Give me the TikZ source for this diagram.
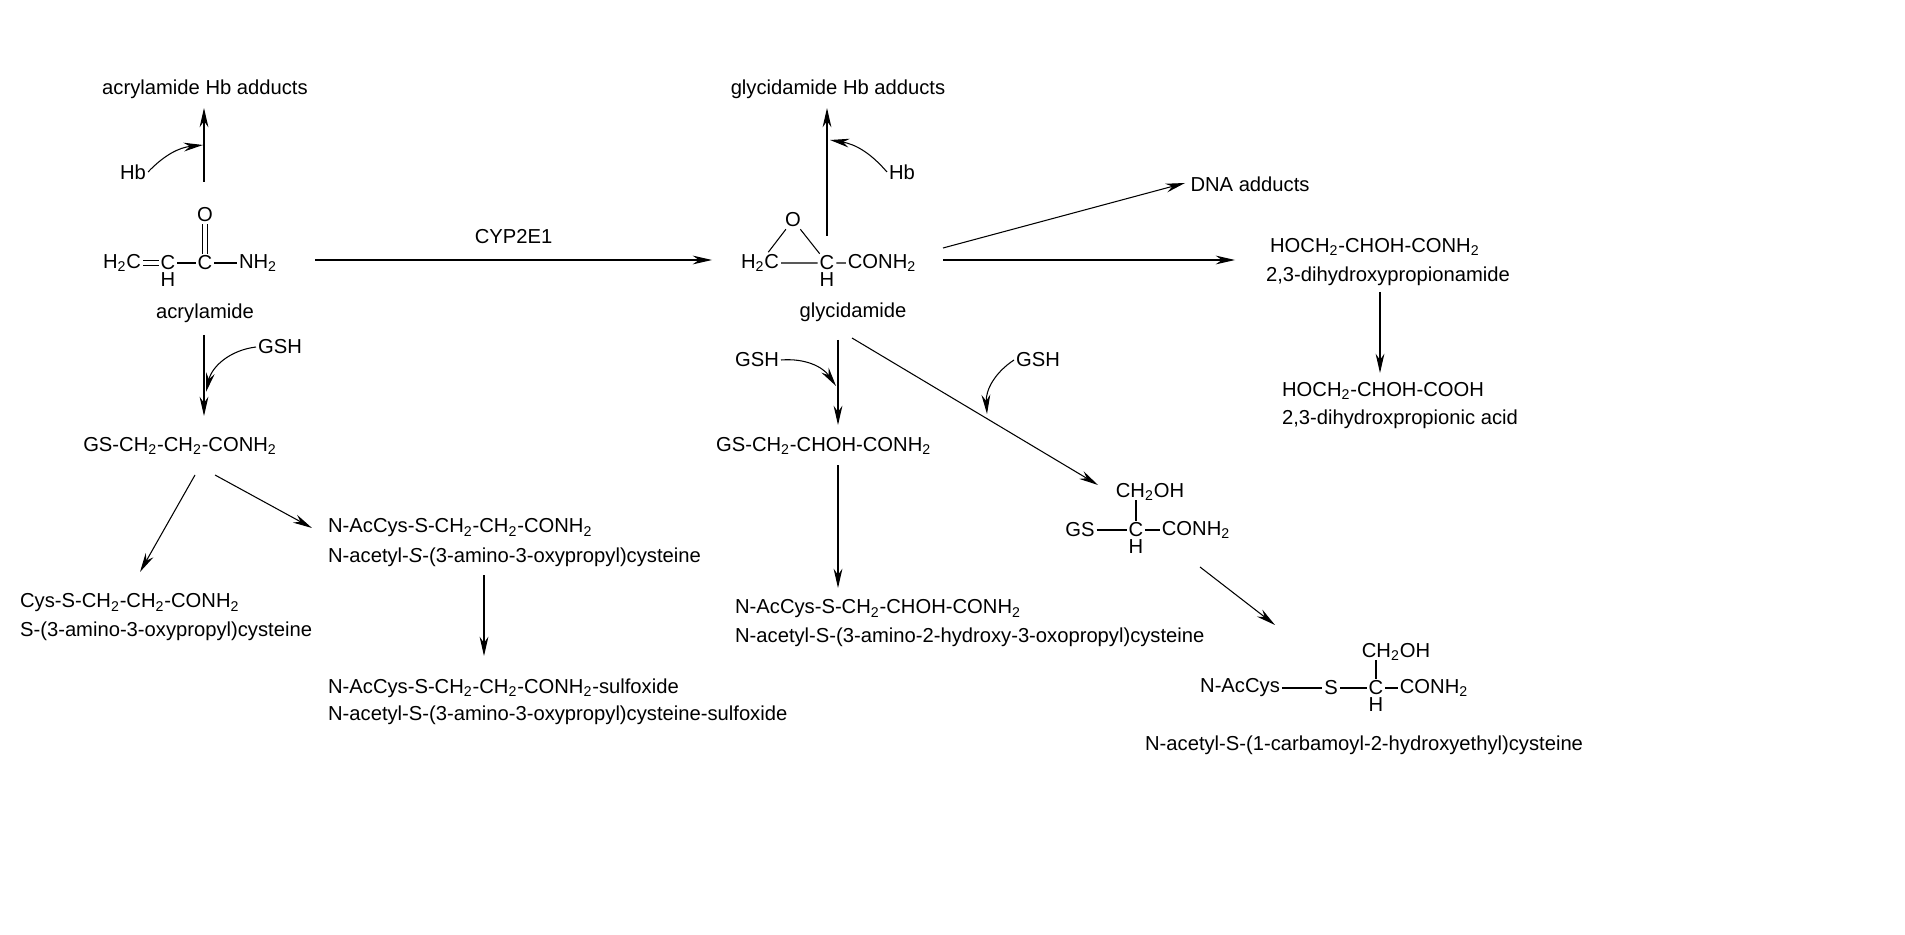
\documentclass[tikz,border=0pt]{standalone}
\usepackage{fontspec}
\setmainfont{Liberation Sans}
\usetikzlibrary{arrows.meta}
\newcommand{\lowsub}[1]{\textsubscript{#1}}
\tikzset{
  rxn/.style={-{Stealth[length=11pt,width=5pt]},semithick},
  bond/.style={semithick},
  lbl/.style={font=\fontsize{11.5}{14}\selectfont,inner sep=1pt},
  llbl/.style={lbl,anchor=west}
}
\begin{document}
\begin{tikzpicture}[x=0.02cm,y=-0.02cm]
\useasboundingbox (0,0) rectangle (1905,935);
% acrylamide
\node[lbl] (ahb) at (205,89) {acrylamide Hb adducts};
\node[lbl] (hb1) at (133,172) {Hb};
\node[lbl] (a1) at (122,263) {H\lowsub{2}C};
\node[lbl] (a2) at (168,263) {C};
\node[lbl] (a2h) at (168,280) {H};
\node[lbl] (a3) at (205,263) {C};
\node[lbl] (ao) at (205,215) {O};
\node[lbl] (a4) at (258,263) {NH\lowsub{2}};
\draw[bond] ([yshift=1.6pt]a1.east) -- ([yshift=1.6pt]a2.west)
            ([yshift=-1.6pt]a1.east) -- ([yshift=-1.6pt]a2.west);
\draw[bond] (a2) -- (a3) (a3) -- (a4);
\draw[bond] ([xshift=1.6pt]a3.north) -- ([xshift=1.6pt]ao.south)
            ([xshift=-1.6pt]a3.north) -- ([xshift=-1.6pt]ao.south);
\node[lbl] (acr) at (205,313) {acrylamide};
\coordinate (abot) at (204,182);
\draw[rxn] (abot) -- (204,108);
\draw[rxn] (hb1.east) to[bend left=20] (203,145);
% CYP2E1
\coordinate (cyp1) at (315,260);
\coordinate (cyp2) at (712,260);
\draw[rxn] (cyp1) -- node[lbl,above=8pt] {CYP2E1} (cyp2);
% glycidamide
\node[lbl] (ghb) at (838,89) {glycidamide Hb adducts};
\node[lbl] (hb2) at (902,172) {Hb};
\node[lbl] (g1) at (760,263) {H\lowsub{2}C};
\node[lbl] (g2) at (827,263) {C};
\node[lbl] (g2h) at (827,280) {H};
\node[lbl] (go) at (793,220) {O};
\node[lbl] (g3) at (882,263) {CONH\lowsub{2}};
\draw[bond] (g1) -- (g2) (g2) -- (g3) (g1) -- (go) (go) -- (g2);
\node[lbl] (gly) at (853,312) {glycidamide};
\draw[rxn] (827,236) -- (827,108);
\draw[rxn] (hb2.west) to[bend right=20] (830,140);
\node[lbl] (dna) at (1250,184) {DNA adducts};
\draw[rxn] (943,248) -- (1185,183);
\draw[rxn] (943,260) -- (1235,260);
\node[llbl] (dhp) at (1268,247) {HOCH\lowsub{2}-CHOH-CONH\lowsub{2}};
\node[llbl] (dhpn) at (1264,276) {2,3-dihydroxypropionamide};
\node[llbl] (dha) at (1280,391) {HOCH\lowsub{2}-CHOH-COOH};
\node[llbl] (dhan) at (1280,419) {2,3-dihydroxpropionic acid};
\draw[rxn] (1380,292) -- (1380,373);
% GSH conjugation of acrylamide
\node[lbl] (gsh1) at (280,347) {GSH};
\draw[rxn] (204,335) -- (204,416);
\draw[rxn] (gsh1.west) to[bend right=35] (206,392);
\node[lbl] (gsa) at (180,446) {GS-CH\lowsub{2}-CH\lowsub{2}-CONH\lowsub{2}};
\node[llbl] (nac1) at (326,528) {N-AcCys-S-CH\lowsub{2}-CH\lowsub{2}-CONH\lowsub{2}};
\node[llbl] (nac1n) at (326,557) {N-acetyl-\textit{S}-(3-amino-3-oxypropyl)cysteine};
\node[llbl] (cys1) at (18,603) {Cys-S-CH\lowsub{2}-CH\lowsub{2}-CONH\lowsub{2}};
\node[llbl] (cys1n) at (18,631) {S-(3-amino-3-oxypropyl)cysteine};
\draw[rxn] (195,475) -- (140,572);
\draw[rxn] (215,475) -- (312,528);
\draw[rxn] (484,575) -- (484,656);
\node[llbl] (sox) at (326,688) {N-AcCys-S-CH\lowsub{2}-CH\lowsub{2}-CONH\lowsub{2}-sulfoxide};
\node[llbl] (soxn) at (326,715) {N-acetyl-S-(3-amino-3-oxypropyl)cysteine-sulfoxide};
% GSH conjugation of glycidamide
\node[lbl] (gsh2) at (757,360) {GSH};
\draw[rxn] (838,340) -- (838,425);
\draw[rxn] (gsh2.east) to[bend left=30] (836,386);
\node[llbl] (gsg) at (714,446) {GS-CH\lowsub{2}-CHOH-CONH\lowsub{2}};
\draw[rxn] (838,465) -- (838,588);
\node[llbl] (nac2) at (733,609) {N-AcCys-S-CH\lowsub{2}-CHOH-CONH\lowsub{2}};
\node[llbl] (nac2n) at (733,637) {N-acetyl-S-(3-amino-2-hydroxy-3-oxopropyl)cysteine};
\node[lbl] (gsh3) at (1038,360) {GSH};
\draw[rxn] (852,338) -- (1098,485);
\draw[rxn] (gsh3.west) to[bend right=30] (987,414);
\node[lbl] (b1) at (1080,530) {GS};
\node[lbl] (b2) at (1136,530) {C};
\node[lbl] (b2h) at (1136,547) {H};
\node[lbl] (b3) at (1150,492) {CH\lowsub{2}OH};
\node[lbl] (b4) at (1196,530) {CONH\lowsub{2}};
\draw[bond] (b1) -- (b2) (b2) -- (b4);
\draw[bond] (b2.north) -- (1136,500);
\draw[rxn] (1200,567) -- (1275,625);
\node[lbl] (c1) at (1240,688) {N-AcCys};
\node[lbl] (c2) at (1331,688) {S};
\node[lbl] (c3) at (1376,688) {C};
\node[lbl] (c3h) at (1376,705) {H};
\node[lbl] (c4) at (1396,652) {CH\lowsub{2}OH};
\node[lbl] (c5) at (1434,688) {CONH\lowsub{2}};
\draw[bond] (c1) -- (c2) (c2) -- (c3) (c3) -- (c5);
\draw[bond] (c3.north) -- (1376,660);
\node[llbl] (c1n) at (1143,745) {N-acetyl-S-(1-carbamoyl-2-hydroxyethyl)cysteine};
\end{tikzpicture}
\end{document}
